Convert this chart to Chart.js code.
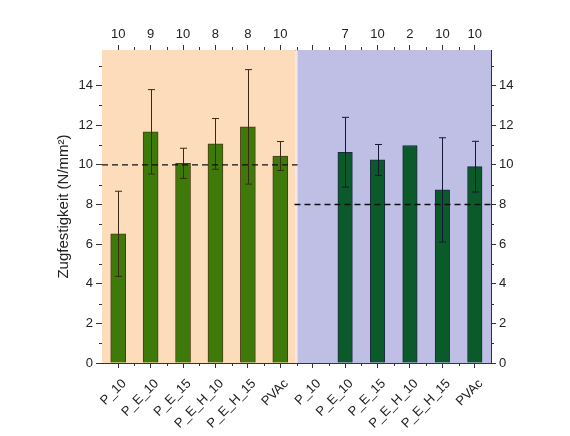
<!DOCTYPE html>
<html>
<head>
<meta charset="utf-8">
<script src="https://cdn.jsdelivr.net/npm/chart.js@4.4.1/dist/chart.umd.min.js"></script>
<style>
html, body { margin: 0; padding: 0; background: #fff; }
#wrap { width: 570px; height: 436px; }
</style>
</head>
<body>
<div id="wrap"><canvas id="chart" width="570" height="436"></canvas></div>
<script>
// Sample names (same set for both series)
var samples = ["P_10", "P_E_10", "P_E_15", "P_E_H_10", "P_E_H_15", "PVAc"];
var labels = samples.concat(samples);

// Number of specimens per bar (top axis)
var counts = ["10", "9", "10", "8", "8", "10", "", "7", "10", "2", "10", "10"];

// Series A (left, orange band)
var meansA = [6.52, 11.67, 10.08, 11.06, 11.92, 10.45];
var sdA = [2.15, 2.13, 0.76, 1.28, 2.89, 0.73];

// Series B (right, purple band)
var meansB = [null, 10.64, 10.25, 10.98, 8.74, 9.91];
var sdB = [null, 1.76, 0.78, 0, 2.63, 1.28];

// Reference lines per band
var refLines = [10, 8];

var yTicks = [0, 2, 4, 6, 8, 10, 12, 14];
var yMax = 15.8;

var nulls = samples.map(function() { return null; });
var dataA = meansA.concat(nulls);
var dataB = nulls.concat(meansB);
var errA = sdA.concat(nulls);
var errB = nulls.concat(sdB);

Chart.defaults.font.family = "'Liberation Sans', Arial, sans-serif";
Chart.defaults.font.size = 13;
Chart.defaults.color = "#222";

function bandEdge(chart) {
    var x = chart.scales.x;
    return (x.getPixelForValue(5) + x.getPixelForValue(6)) / 2;
}

var bandPlugin = {
    id: "bands",
    beforeDatasetsDraw: function(chart) {
        var ctx = chart.ctx, ca = chart.chartArea;
        var b = bandEdge(chart);
        ctx.save();
        ctx.fillStyle = "#fddcbc";
        ctx.fillRect(ca.left, ca.top, b - 1 - ca.left, ca.bottom - ca.top);
        ctx.fillStyle = "#f3e6e4";
        ctx.fillRect(b - 1, ca.top, 2, ca.bottom - ca.top);
        ctx.fillStyle = "#bfbfe6";
        ctx.fillRect(b + 1, ca.top, ca.right - b - 1, ca.bottom - ca.top);
        ctx.restore();
    },
    afterDatasetsDraw: function(chart) {
        var ctx = chart.ctx, ca = chart.chartArea;
        var x = chart.scales.x, y = chart.scales.y;
        var b = bandEdge(chart);

        // error bars
        function drawErr(means, errs, color) {
            ctx.strokeStyle = color;
            ctx.lineWidth = 1;
            means.forEach(function(m, i) {
                if (m == null || !errs[i]) return;
                var px = Math.round(x.getPixelForValue(i)) + 0.5;
                var y1 = y.getPixelForValue(m + errs[i]);
                var y2 = y.getPixelForValue(m - errs[i]);
                ctx.beginPath();
                ctx.moveTo(px, y1); ctx.lineTo(px, y2);
                ctx.moveTo(px - 3.5, y1); ctx.lineTo(px + 3.5, y1);
                ctx.moveTo(px - 3.5, y2); ctx.lineTo(px + 3.5, y2);
                ctx.stroke();
            });
        }
        ctx.save();
        drawErr(dataA, errA, "#3b2a12");
        drawErr(dataB, errB, "#141838");

        // reference lines
        ctx.strokeStyle = "#111";
        ctx.lineWidth = 1.4;
        ctx.setLineDash([6, 4]);
        var ya = y.getPixelForValue(refLines[0]);
        var yb = y.getPixelForValue(refLines[1]);
        ctx.beginPath();
        ctx.moveTo(ca.left, ya); ctx.lineTo(b + 1, ya);
        ctx.moveTo(b - 2, yb); ctx.lineTo(ca.right, yb);
        ctx.stroke();
        ctx.restore();
    },
    afterDraw: function(chart) {
        // minor ticks
        var ctx = chart.ctx, ca = chart.chartArea;
        var x = chart.scales.x, y = chart.scales.y;
        ctx.save();
        ctx.strokeStyle = "#333";
        ctx.lineWidth = 1;
        ctx.beginPath();
        for (var i = 0; i < labels.length - 1; i++) {
            var px = Math.round((x.getPixelForValue(i) + x.getPixelForValue(i + 1)) / 2) + 0.5;
            ctx.moveTo(px, ca.bottom); ctx.lineTo(px, ca.bottom + 3);
            ctx.moveTo(px, ca.top); ctx.lineTo(px, ca.top - 3);
        }
        for (var v = 1; v < yMax; v += 2) {
            var py = Math.round(y.getPixelForValue(v)) + 0.5;
            ctx.moveTo(ca.left - 3, py); ctx.lineTo(ca.left, py);
            ctx.moveTo(ca.right, py); ctx.lineTo(ca.right + 3, py);
        }
        ctx.stroke();
        ctx.restore();
    }
};

function fixWidth(w) { return function(s) { s.width = w; }; }
function fixHeight(h) { return function(s) { s.height = h; }; }

var gridOpts = {
    display: true,
    drawOnChartArea: false,
    drawTicks: true,
    tickLength: 5,
    tickColor: "#333"
};

var yTickOpts = {
    stepSize: 2,
    includeBounds: false,
    padding: 3,
    color: "#222",
    font: { size: 13 }
};

new Chart(document.getElementById("chart"), {
    type: "bar",
    data: {
        labels: labels,
        datasets: [{
            label: "A",
            data: dataA,
            backgroundColor: "#3e7a0a",
            borderColor: "#4a3c14",
            borderWidth: 1,
            barThickness: 15,
            grouped: false
        }, {
            label: "B",
            data: dataB,
            backgroundColor: "#0b5a2a",
            borderColor: "#1c2a42",
            borderWidth: 1,
            barThickness: 14.5,
            grouped: false
        }]
    },
    options: {
        responsive: false,
        animation: false,
        layout: { padding: { left: 52, right: 0, top: 0, bottom: 0 } },
        plugins: {
            legend: { display: false },
            tooltip: { enabled: false }
        },
        scales: {
            x: {
                type: "category",
                position: "bottom",
                offset: true,
                grid: Object.assign({}, gridOpts, { offset: false }),
                border: { display: true, color: "#3a3040", width: 1 },
                ticks: { maxRotation: 45, minRotation: 45, padding: 8, labelOffset: 6, autoSkip: false, color: "#222" },
                afterFit: fixHeight(73)
            },
            xTop: {
                type: "category",
                position: "top",
                labels: counts,
                offset: true,
                grid: Object.assign({}, gridOpts, { offset: false }),
                border: { display: true, color: "#3a3040", width: 1 },
                ticks: { maxRotation: 0, padding: 3, autoSkip: false, color: "#222" },
                afterFit: fixHeight(50)
            },
            y: {
                position: "left",
                min: 0,
                max: yMax,
                afterBuildTicks: function(s) { s.ticks = yTicks.map(function(v) { return { value: v }; }); },
                grid: Object.assign({}, gridOpts, { tickLength: 6 }),
                border: { display: true, color: "#3a2e2a", width: 1 },
                ticks: yTickOpts,
                title: {
                    display: true,
                    text: "Zugfestigkeit (N/mm²)",
                    font: { size: 15 },
                    color: "#222",
                    padding: { top: 3, bottom: 4 }
                },
                afterFit: fixWidth(50)
            },
            yRight: {
                position: "right",
                min: 0,
                max: yMax,
                afterBuildTicks: function(s) { s.ticks = yTicks.map(function(v) { return { value: v }; }); },
                grid: gridOpts,
                border: { display: true, color: "#2d2d52", width: 1 },
                ticks: yTickOpts,
                afterFit: fixWidth(79)
            }
        }
    },
    plugins: [bandPlugin]
});
</script>
</body>
</html>
